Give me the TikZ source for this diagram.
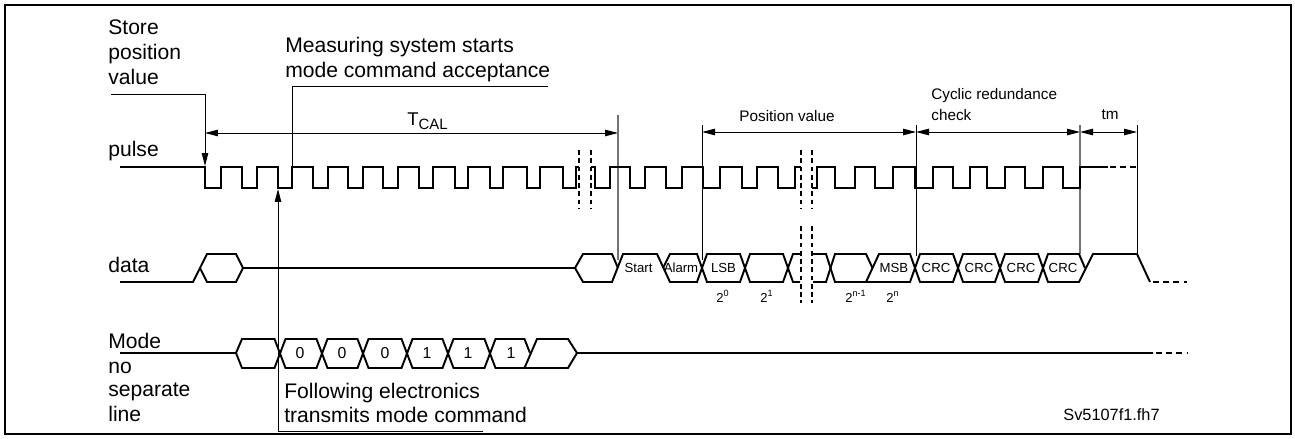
\documentclass[tikz,border=0pt]{standalone}
\usepackage{fontspec}
\setmainfont{Liberation Sans}
\usetikzlibrary{arrows.meta}
\newcommand\fbig{\fontsize{12}{14}\selectfont}
\newcommand\fmid{\fontsize{8.7}{10}\selectfont}
\newcommand\fcell{\fontsize{7.5}{9}\selectfont}
\newcommand\fdig{\fontsize{9}{10}\selectfont}
\newcommand\fpow{\fontsize{7.4}{8}\selectfont}
\newcommand\fsv{\fontsize{9.3}{11}\selectfont}
\begin{document}
\begin{tikzpicture}[x=0.02cm,y=-0.02cm,
  sig/.style={line width=1.3pt,line join=miter,line cap=butt},
  dat/.style={line width=1.1pt,line join=miter},
  lead/.style={line width=0.55pt},
  glead/.style={line width=0.6pt,draw=black!55},
  brk/.style={line width=0.6pt,dash pattern=on 2.8pt off 1.9pt},
  tail/.style={dash pattern=on 3.4pt off 2.4pt},
  tip/.style={-{Triangle[length=0.26cm,width=0.13cm]}},
  dtip/.style={{Triangle[length=0.26cm,width=0.13cm]}-{Triangle[length=0.26cm,width=0.13cm]}},
  lbl/.style={inner sep=0pt,anchor=base west,font=\fbig},
  mid/.style={inner sep=0pt,font=\fmid},
  cell/.style={inner sep=0pt,font=\fcell},
  dig/.style={inner sep=0pt,font=\fdig},
  pow/.style={inner sep=0pt,anchor=base west,font=\fpow}]
\useasboundingbox (0,0) rectangle (1295,439);
\draw[line width=1.5pt] (5,5) rectangle (1291,434);

% ---------- labels left
\node[lbl] (st1) at (108,35) {Store};
\node[lbl] (st2) at (108,60) {position};
\node[lbl] (st3) at (108,85) {value};
\node[lbl] (pl) at (108,156) {pulse};
\node[lbl] (dl) at (108,272) {data};
\node[lbl] (md1) at (108,348) {Mode};
\node[lbl] (md2) at (108,373) {no};
\node[lbl] (md3) at (108,396) {separate};
\node[lbl] (md4) at (108,421) {line};

\node[lbl] (ms1) at (285,53) {Measuring system starts};
\node[lbl] (ms2) at (285,78) {mode command acceptance};
\node[lbl] (fe1) at (284,398) {Following electronics};
\node[lbl] (fe2) at (284,422) {transmits mode command};

\node[inner sep=0pt,anchor=base west,font=\fontsize{10.5}{12}\selectfont] (tcal) at (407,126) {T\raisebox{-0.08cm}{\fontsize{8.5}{9}\selectfont CAL}};
\node[mid,anchor=base] (pv) at (787,122) {Position value};
\node[mid,anchor=base west] (cr1) at (931,100) {Cyclic redundance};
\node[mid,anchor=base west] (cr2) at (931,121) {check};
\node[mid,anchor=base] (tm) at (1110,120) {tm};
\node[inner sep=0pt,anchor=base west,font=\fsv] (sv) at (1063,420) {Sv5107f1.fh7};

% ---------- leader lines
\coordinate (sA) at (111,94);
\coordinate (sB) at (205,94);
\coordinate (sC) at (205,166);
\draw[lead,tip] (sA) -- (sB) -- (sC);
\coordinate (mA) at (548,86);
\coordinate (mB) at (292,86);
\coordinate (mC) at (292,167);
\draw[lead] (mA) -- (mB) -- (mC);
\coordinate (fA) at (483,431);
\coordinate (fB) at (278,431);
\coordinate (fC) at (278,189);
\draw[lead,tip] (fA) -- (fB) -- (fC);

% ---------- dimension lines
\coordinate (t1) at (205,133);
\coordinate (t2) at (618,133);
\draw[lead,dtip] (t1) -- (t2);
\coordinate (v1a) at (618,115); \coordinate (v1b) at (618,260);
\draw[glead] (v1a) -- (v1b);
\coordinate (p1) at (702,132); \coordinate (p2) at (916,132);
\coordinate (p3) at (1080,132); \coordinate (p4) at (1137,132);
\draw[lead,dtip] (p1) -- (p2);
\draw[lead,dtip] (p2) -- (p3);
\draw[lead,dtip] (p3) -- (p4);
\coordinate (v2a) at (702,125); \coordinate (v2b) at (702,260);
\coordinate (v3a) at (916,125); \coordinate (v3b) at (916,256);
\coordinate (v4a) at (1080,125); \coordinate (v4b) at (1080,254);
\coordinate (v5a) at (1137,125); \coordinate (v5b) at (1137,254);
\draw[lead] (v2a) -- (v2b);
\draw[lead] (v3a) -- (v3b);
\draw[glead] (v4a) -- (v4b);
\draw[lead] (v5a) -- (v5b);

% ---------- pulse
\draw[sig] (120,167) foreach \f/\r in {205/221,242/257,278/292,313/328,348/363,383/398,419/433,455/468,490/503,527/540,563/576}
  { -- (\f,167) -- (\f,188) -- (\r,188) -- (\r,167) } -- (579,167);
\draw[sig] (591,167) foreach \f/\r in {595/610,630/645,666/682,703/720,742/757,778/795}
  { -- (\f,167) -- (\f,188) -- (\r,188) -- (\r,167) } -- (801,167);
\draw[sig] (812,188) -- (817,188) -- (817,167) foreach \f/\r in {835/855,875/893,915/933,953/970,987/1005,1025/1043,1063/1080}
  { -- (\f,167) -- (\f,188) -- (\r,188) -- (\r,167) } -- (1108,167);
\draw[sig,tail] (1110,167) -- (1137,167);

% ---------- break marks
\draw[brk] (579,150) -- (579,208);
\draw[brk] (591,150) -- (591,208);
\draw[brk] (801,150) -- (801,208);
\draw[brk] (812,150) -- (812,208);
\draw[brk] (801,226) -- (801,303);
\draw[brk] (812,226) -- (812,303);

% ---------- data
\draw[dat] (120,282) -- (193,282) -- (207,254) -- (236,254) -- (243,268) -- (575,268);
\draw[dat] (200,268) -- (207,282) -- (236,282) -- (243,268);
\draw[dat] (575,268) -- (583,254) -- (612,254) -- (618,268);
\draw[dat] (575,268) -- (583,282) -- (612,282) -- (623,254) -- (657,254) -- (670,282) -- (697,282)
  -- (707,254) -- (740,254) -- (750,282) -- (783,282) -- (793,254) -- (800,254);
\draw[dat] (663,268) -- (670,254) -- (697,254) -- (707,282) -- (740,282) -- (750,254) -- (783,254)
  -- (793,282) -- (800,282);
\draw[dat] (813,254) -- (826,254) -- (835,282) -- (910,282) -- (920,254) -- (953,254) -- (963,282)
  -- (995,282) -- (1005,254) -- (1038,254) -- (1048,282) -- (1079,282) -- (1093,254) -- (1137,254) -- (1150,282);
\draw[dat] (813,282) -- (826,282) -- (835,254) -- (866,254) -- (872.5,268);
\draw[dat] (866,282) -- (879,254) -- (910,254) -- (920,282) -- (953,282) -- (963,254) -- (995,254)
  -- (1005,282) -- (1038,282) -- (1048,254) -- (1079,254) -- (1085,268);
\draw[dat,tail] (1153,282) -- (1187,282);

\node[cell] (cS) at (638.5,268) {Start};
\node[cell] (cA) at (681,268) {Alarm};
\node[cell] (cL) at (723.5,268) {LSB};
\node[cell] (cM) at (894,268) {MSB};
\node[cell] (c1) at (936,268) {CRC};
\node[cell] (c2) at (979,268) {CRC};
\node[cell] (c3) at (1021,268) {CRC};
\node[cell] (c4) at (1063,268) {CRC};
\node[pow] (w0) at (716,302) {2\textsuperscript{0}};
\node[pow] (w1) at (760,302) {2\textsuperscript{1}};
\node[pow] (w2) at (845,302) {2\textsuperscript{n-1}};
\node[pow] (w3) at (886,302) {2\textsuperscript{n}};

% ---------- mode
\draw[dat] (120,353) -- (236,353);
\draw[dat] (236,353) -- (242,339) -- (274.5,339) -- (285.5,368) -- (316.5,368) -- (327.5,339) -- (357.5,339)
  -- (368.5,368) -- (401.5,368) -- (412.5,339) -- (442.5,339) -- (453.5,368) -- (484.5,368) -- (495.5,339)
  -- (524.5,339) -- (530,353);
\draw[dat] (236,353) -- (242,368) -- (274.5,368) -- (285.5,339) -- (316.5,339) -- (327.5,368) -- (357.5,368)
  -- (368.5,339) -- (401.5,339) -- (412.5,368) -- (442.5,368) -- (453.5,339) -- (484.5,339) -- (495.5,368)
  -- (524.5,368) -- (568,368) -- (577,353) -- (1153,353);
\draw[dat] (524.5,368) -- (537,339) -- (568,339) -- (577,353);
\draw[dat,tail] (1156,353) -- (1187,353);

\node[dig] (d1) at (300,353) {0};
\node[dig] (d2) at (342,353) {0};
\node[dig] (d3) at (385,353) {0};
\node[dig] (d4) at (427,353) {1};
\node[dig] (d5) at (468,353) {1};
\node[dig] (d6) at (511,353) {1};
\end{tikzpicture}
\end{document}
